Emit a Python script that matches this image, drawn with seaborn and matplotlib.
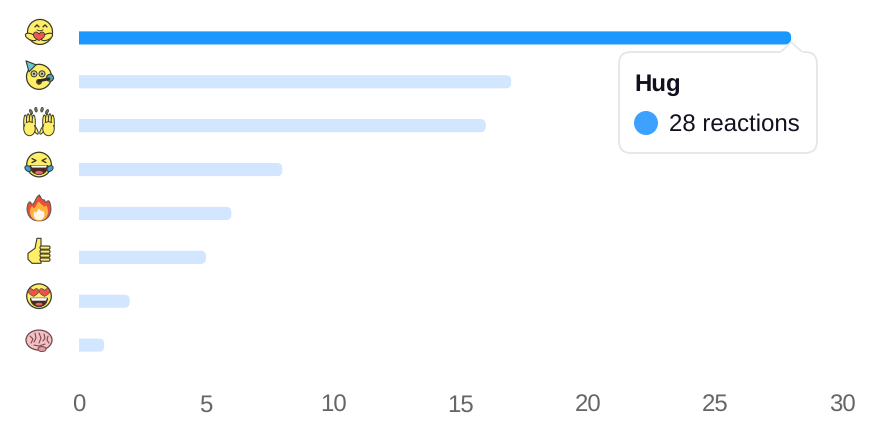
import matplotlib
matplotlib.use("Agg")
import matplotlib.pyplot as plt
import seaborn as sns
import pandas as pd
from matplotlib.patches import Circle, Ellipse, Polygon, FancyBboxPatch, PathPatch, Wedge
from matplotlib.path import Path
from matplotlib.transforms import IdentityTransform

reactions = ["Hug", "Party", "Hooray", "Haha", "Fire", "Like", "Love", "Mind"]
counts = [28, 17, 16, 8, 6, 5, 2, 1]
highlight = "Hug"
x_ticks = [0, 5, 10, 15, 20, 25, 30]

W, H = 894, 438
BLUE, PALE = "#1a98ff", "#d2e7ff"
YEL, INK = "#ffee66", "#3a3a2a"

sns.set_theme(style="white")
plt.rcParams["font.family"] = ["Liberation Sans", "DejaVu Sans"]
plt.rcParams["text.hinting"] = "none"
plt.rcParams["text.hinting_factor"] = 1
fig = plt.figure(figsize=(W / 100, H / 100), dpi=100, facecolor="white")
ax = fig.add_axes([79 / W, 1 - 367 / H, (842 - 79) / W, (367 - 16) / H])
df = pd.DataFrame({"reaction": reactions, "count": counts})
sns.barplot(data=df, x="count", y="reaction", hue="reaction", orient="h", dodge=False, legend=False,
            palette={r: (BLUE if r == highlight else PALE) for r in reactions}, width=13.5 / 44, saturation=1,
            linewidth=0, ax=ax)
ax.set_xlim(0, 30)
ax.set_ylim(7.5, -0.5)
ax.set_xticks(x_ticks)
ax.set_xlabel("")
ax.set_ylabel("")
ax.set_yticks(range(len(reactions)))
ax.set_yticklabels([""] * len(reactions))
ax.tick_params(axis="x", length=0, pad=32, labelsize=17.5, labelcolor="#666666")
for lab in ax.get_xticklabels():
    lab.set_verticalalignment("baseline")
ax.tick_params(axis="y", length=0)
ax.grid(False)
sns.despine(ax=ax, left=True, bottom=True)
ax.patch.set_alpha(0)

# Rounded right ends for the bars
fig.canvas.draw()
for bar in ax.patches:
    bb = bar.get_window_extent()
    if bb.width <= 0:
        continue
    clip = FancyBboxPatch((bb.x0 - 20, bb.y0), bb.width + 20, bb.height, boxstyle="round,pad=0,rounding_size=6",
                          transform=IdentityTransform())
    bar.set_clip_path(clip)
    bar.set_snap(False)

# Pixel-space overlay for tooltip and emoji icons
ov = fig.add_axes([0, 0, 1, 1], zorder=5)
ov.set_xlim(0, W)
ov.set_ylim(H, 0)
ov.axis("off")

def add(p):
    ov.add_patch(p)
    return p

def circ(x, y, r, fc=YEL, ec=INK, lw=0.9):
    return add(Circle((x, y), r, fc=fc, ec=ec, lw=lw))

def ell(x, y, w, h, fc=YEL, ec=INK, lw=0.8, a=0):
    return add(Ellipse((x, y), w, h, angle=a, fc=fc, ec=ec, lw=lw))

def poly(pts, fc=YEL, ec=INK, lw=0.8):
    return add(Polygon(pts, closed=True, fc=fc, ec=ec, lw=lw, joinstyle="round"))

def line(xs, ys, c=INK, lw=1.0):
    ov.plot(xs, ys, color=c, lw=lw, solid_capstyle="round")

def heart(x, y, s, fc="#ee5555", ec=INK, lw=0.6):
    v = [(x, y - 0.4 * s), (x - 0.5 * s, y - 1.2 * s), (x - 1.4 * s, y - 0.9 * s), (x - 1.2 * s, y),
         (x - 1.1 * s, y + 0.4 * s), (x - 0.4 * s, y + 0.8 * s), (x, y + s),
         (x + 0.4 * s, y + 0.8 * s), (x + 1.1 * s, y + 0.4 * s), (x + 1.2 * s, y),
         (x + 1.4 * s, y - 0.9 * s), (x + 0.5 * s, y - 1.2 * s), (x, y - 0.4 * s)]
    codes = [Path.MOVETO] + [Path.CURVE4] * 12
    add(PathPatch(Path(v, codes), fc=fc, ec=ec, lw=lw))

def hug(x, y):
    circ(x + 1, y - 1, 12.5)
    line([x - 4, x - 2, x], [y - 6, y - 8, y - 6]); line([x + 4, x + 6, x + 8], [y - 6, y - 8, y - 6])
    line([x - 2, x + 1, x + 4], [y - 3, y - 2, y - 3], lw=0.7)
    ell(x - 8, y + 4, 12, 6, a=25); ell(x + 8, y + 4, 12, 6, a=-25)
    heart(x, y + 3, 4.5)

def party(x, y):
    circ(x, y, 12.5)
    poly([(x - 13, y - 16), (x - 3, y - 12), (x - 10, y - 5)], fc="#66c8cc")
    for dx in (-5, 3):
        circ(x + dx, y - 3, 3, fc="#c9c9b0", lw=0.7); circ(x + dx, y - 3, 1.1, fc=INK, lw=0)
    line([x, x + 10], [y + 4, y + 2], c="#2b2b2b", lw=2.0)
    circ(x, y + 5, 2.5, fc="#55401f", lw=0.5)
    circ(x + 11, y + 1, 3.5, fc="#4aa8b8", lw=0.8)

def hand(x, y, d):
    for i, off in enumerate((-4.2, -1.4, 1.4, 4.2)):
        ell(x + off, y - 4 + abs(i - 1.5) * 1.2, 3.2, 15, lw=0.7)
    ell(x + d * 6, y + 5, 3.2, 10, a=-d * 28, lw=0.7)
    ell(x, y + 4, 11.5, 14, lw=0.7)
    line([x - 4, x + 4], [y - 1, y - 1], c=YEL, lw=1.5)

def hooray(x, y):
    hand(x - 9.5, y + 4, 1); hand(x + 9.5, y + 4, -1)
    for dx, dy, a in ((-8, -9, -30), (-3, -11, -10), (3, -11, 10), (8, -9, 30)):
        ell(x + dx, y + dy, 2.4, 4.8, fc="#777766", ec=INK, lw=0.5, a=a)

def laugh(x, y):
    circ(x, y, 12.3)
    line([x - 7, x - 3, x - 7], [y - 6, y - 4, y - 2]); line([x + 7, x + 3, x + 7], [y - 6, y - 4, y - 2])
    add(Wedge((x, y + 1), 9, 0, 180, fc="#4a2a22", ec=INK, lw=0.7))
    ell(x, y + 8, 8, 3.4, fc="#ee6666", ec="none", lw=0)
    poly([(x - 8, y + 1), (x + 8, y + 1), (x + 7, y + 3), (x - 7, y + 3)], fc="white", lw=0)
    ell(x - 11, y + 4, 7, 5, fc="#3d9ee0", lw=0.7, a=40); ell(x + 11, y + 4, 7, 5, fc="#3d9ee0", lw=0.7, a=-40)

def flame(x, y, s, fc, ec, lw):
    pts = [(0, -14), (3, -8), (6, -9), (6, -5), (10, -9), (12, -2), (12, 4), (8, 11), (0, 13),
           (-8, 11), (-12, 4), (-12, -3), (-9, -8), (-7, -3), (-4, -7), (-3, -10)]
    p = [(x + a * s, y + b * s) for a, b in pts]
    n = len(p)
    v, c = [p[0]], [Path.MOVETO]
    for i in range(n):
        a, b = p[(i + 1) % n], p[(i + 2) % n]
        v.extend([a, ((a[0] + b[0]) / 2, (a[1] + b[1]) / 2)])
        c.extend([Path.CURVE3, Path.CURVE3])
    add(PathPatch(Path(v, c), fc=fc, ec=ec, lw=lw))

def fire(x, y):
    flame(x, y, 1, "#e8503a", "#555555", 0.7)
    flame(x, y + 3, 0.75, "#ffb13d", "none", 0)
    flame(x, y + 6, 0.45, "#fff8e8", "none", 0)

def thumb(x, y):
    poly([(x - 11, y + 1), (x - 4, y - 4), (x - 2, y - 14), (x + 2, y - 14), (x + 2, y - 5), (x + 2, y + 11),
          (x - 7, y + 11), (x - 11, y + 7)])
    for dy in (-5, -1, 3, 7):
        add(FancyBboxPatch((x + 1, y + dy - 1.3), 10, 3.2, boxstyle="round,pad=0,rounding_size=1.4",
                           fc=YEL, ec=INK, lw=0.8))

def love(x, y):
    circ(x, y, 12.3)
    heart(x - 5.5, y - 4, 4.2, fc="#ee5050", lw=0.4); heart(x + 5.5, y - 4, 4.2, fc="#ee5050", lw=0.4)
    add(Wedge((x, y + 2), 8.5, 0, 180, fc="#4a2a22", ec=INK, lw=0.7))
    poly([(x - 8, y + 2), (x + 8, y + 2), (x + 7, y + 4.5), (x - 7, y + 4.5)], fc="white", lw=0)
    ell(x, y + 8, 7, 2.8, fc="#ee6666", ec="none", lw=0)

def brain(x, y):
    ell(x, y, 26, 20, fc="#f4c0c4", ec="#6a4a4a", lw=0.9)
    ell(x + 3, y + 9, 8, 5, fc="#e89aa0", ec="#6a4a4a", lw=0.7)
    for xs, ys in (([-9, -6, -8], [-4, -1, 3]), ([-4, -3, -5], [-7, -2, 2]), ([0, 2, 0], [-7, -2, 3]),
                   ([5, 6, 4], [-6, -2, 1]), ([9, 8, 10], [-4, 0, 3]), ([-5, 0, 6], [5, 6, 4])):
        line([x + a for a in xs], [y + b for b in ys], c="#7a4a50", lw=0.8)

icons = {"Hug": hug, "Party": party, "Hooray": hooray, "Haha": laugh,
         "Fire": fire, "Like": thumb, "Love": love, "Mind": brain}
inv = ov.transData.inverted()
for i, r in enumerate(reactions):
    py = inv.transform(ax.transData.transform((0, i)))[1]
    icons[r](39, py - 5)

# Tooltip
add(FancyBboxPatch((619, 52), 198, 101, boxstyle="round,pad=0,rounding_size=12", fc="white", ec="#e6e6e6", lw=1.3))
tip = inv.transform(ax.transData.transform((counts[0], 0)))
ov.add_patch(Polygon([(780, 52.8), (tip[0], tip[1] + 4), (803, 52.8)], closed=False, fc="white", ec="#e6e6e6", lw=1.2))
line([781, 802], [53.2, 53.2], c="white", lw=1.6)
ov.text(634, 91, highlight, fontsize=17.2, fontweight="bold", color="#10101f", ha="left", va="baseline")
circ(646, 123, 12, fc="#3da2ff", ec="none", lw=0)
ov.text(669, 131, f"{counts[0]} reactions", fontsize=17.6, color="#10101f", ha="left", va="baseline")

fig.savefig("out.png", dpi=100)
